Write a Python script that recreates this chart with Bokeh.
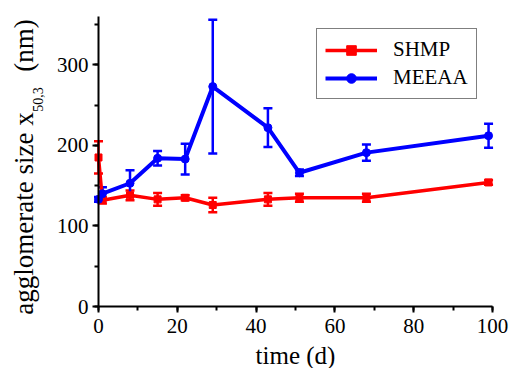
from bokeh.plotting import figure
from bokeh.models import (ColumnDataSource, Whisker, TeeHead, Legend, LegendItem,
                          SingleIntervalTicker, Label, Range1d)
from bokeh.embed import file_html
from bokeh.resources import INLINE

# ---- data ----
time_d = [0, 1, 8, 15, 22, 29, 43, 51, 68, 99]
shmp = [185, 132, 138, 133, 135, 126, 133, 135, 135, 154]
shmp_err = [20, 4, 6, 8, 3, 9, 8, 5, 5, 3]
meeaa = [133, 140, 153, 184, 183, 273, 222, 166, 191, 212]
meeaa_err = [3, 8, 16, 9, 19, 83, 24, 4, 10, 15]
series_names = ["SHMP", "MEEAA"]
x_label = "time (d)"
y_label_main = "agglomerate size x"
y_label_sub = "50,3"
y_label_unit = "(nm)"
x_axis_span = (0, 100)
y_axis_span = (0, 360)

RED = "#ff0000"
BLUE = "#0000ff"
FONT = "Liberation Serif"

W, H = 509, 368
# pixel placement of the axis box inside the canvas
PX_L, PX_R, PX_T, PX_B = 98, 492, 16, 306
xs = (PX_R - PX_L) / (x_axis_span[1] - x_axis_span[0])
ys = (PX_B - PX_T) / (y_axis_span[1] - y_axis_span[0])
x_range = Range1d(x_axis_span[0] - PX_L / xs, x_axis_span[1] + (W - PX_R) / xs)
y_range = Range1d(y_axis_span[0] - (H - PX_B) / ys, y_axis_span[1] + PX_T / ys)

p = figure(width=W, height=H, output_backend="svg", toolbar_location=None,
           x_range=x_range, y_range=y_range,
           min_border=0, min_border_left=0, min_border_right=0,
           min_border_top=0, min_border_bottom=0)
p.outline_line_color = None
p.grid.grid_line_color = None
p.background_fill_color = "white"
p.border_fill_color = "white"

p.xaxis.ticker = SingleIntervalTicker(interval=20, num_minor_ticks=2)
p.yaxis.ticker = SingleIntervalTicker(interval=100, num_minor_ticks=2)
p.xaxis.fixed_location = y_axis_span[0]
p.yaxis.fixed_location = x_axis_span[0]
p.xaxis.bounds = x_axis_span
p.yaxis.bounds = y_axis_span
for ax in (p.xaxis[0], p.yaxis[0]):
    ax.axis_line_width = 2
    ax.axis_line_color = "black"
    ax.major_tick_line_width = 2
    ax.minor_tick_line_width = 2
    ax.major_tick_line_color = "black"
    ax.minor_tick_line_color = "black"
    ax.major_tick_in = 0
    ax.major_tick_out = 6
    ax.minor_tick_in = 0
    ax.minor_tick_out = 4
    ax.major_label_text_font = FONT
    ax.major_label_text_font_size = "21px"
    ax.major_label_text_color = "black"
p.xaxis[0].major_label_standoff = 6
p.yaxis[0].major_label_standoff = 4

def add_series(y, err, color, marker, msize, lw):
    src = ColumnDataSource(dict(x=time_d, y=y,
                                upper=[a + b for a, b in zip(y, err)],
                                lower=[a - b for a, b in zip(y, err)]))
    w = Whisker(base="x", upper="upper", lower="lower", source=src,
                dimension="height", line_color=color, line_width=2.5,
                upper_head=TeeHead(size=9, line_color=color, line_width=2.5),
                lower_head=TeeHead(size=9, line_color=color, line_width=2.5))
    p.add_layout(w)
    ln = p.line("x", "y", source=src, line_color=color, line_width=lw)
    sc = p.scatter("x", "y", source=src, marker=marker, size=msize,
                   fill_color=color, line_color=color)
    return ln, sc

r_line, r_sc = add_series(shmp, shmp_err, RED, "square", 7, 3.5)
b_line, b_sc = add_series(meeaa, meeaa_err, BLUE, "circle", 8, 4)

legend = Legend(items=[LegendItem(label=series_names[0], renderers=[r_line, r_sc]),
                       LegendItem(label=series_names[1], renderers=[b_line, b_sc])],
                location=(316, H - 99), border_line_color="black", border_line_width=1.5,
                padding=8, spacing=3, glyph_width=52, glyph_height=24,
                label_height=24, label_standoff=16, label_text_font=FONT,
                label_text_font_size="21px", label_text_color="black",
                background_fill_color="white", background_fill_alpha=1, margin=0)
p.add_layout(legend)

# axis titles, anchored by their centres (screen units from canvas left / bottom)
def title(text, cx, cy, size, angle=0):
    p.add_layout(Label(x=cx, y=H - cy, x_units="screen", y_units="screen", text=text,
                       angle=angle, angle_units="deg", text_align="center",
                       text_baseline="middle", text_font=FONT,
                       text_font_size=size, text_color="black"))

title(x_label, (PX_L + PX_R) / 2, 355, "25px")
title(y_label_main, 23, 213, "27px", 90)
title(y_label_sub, 37, 99, "14px", 90)
title(y_label_unit, 23, 45, "27px", 90)

open("out.html", "w").write(file_html(p, INLINE))
